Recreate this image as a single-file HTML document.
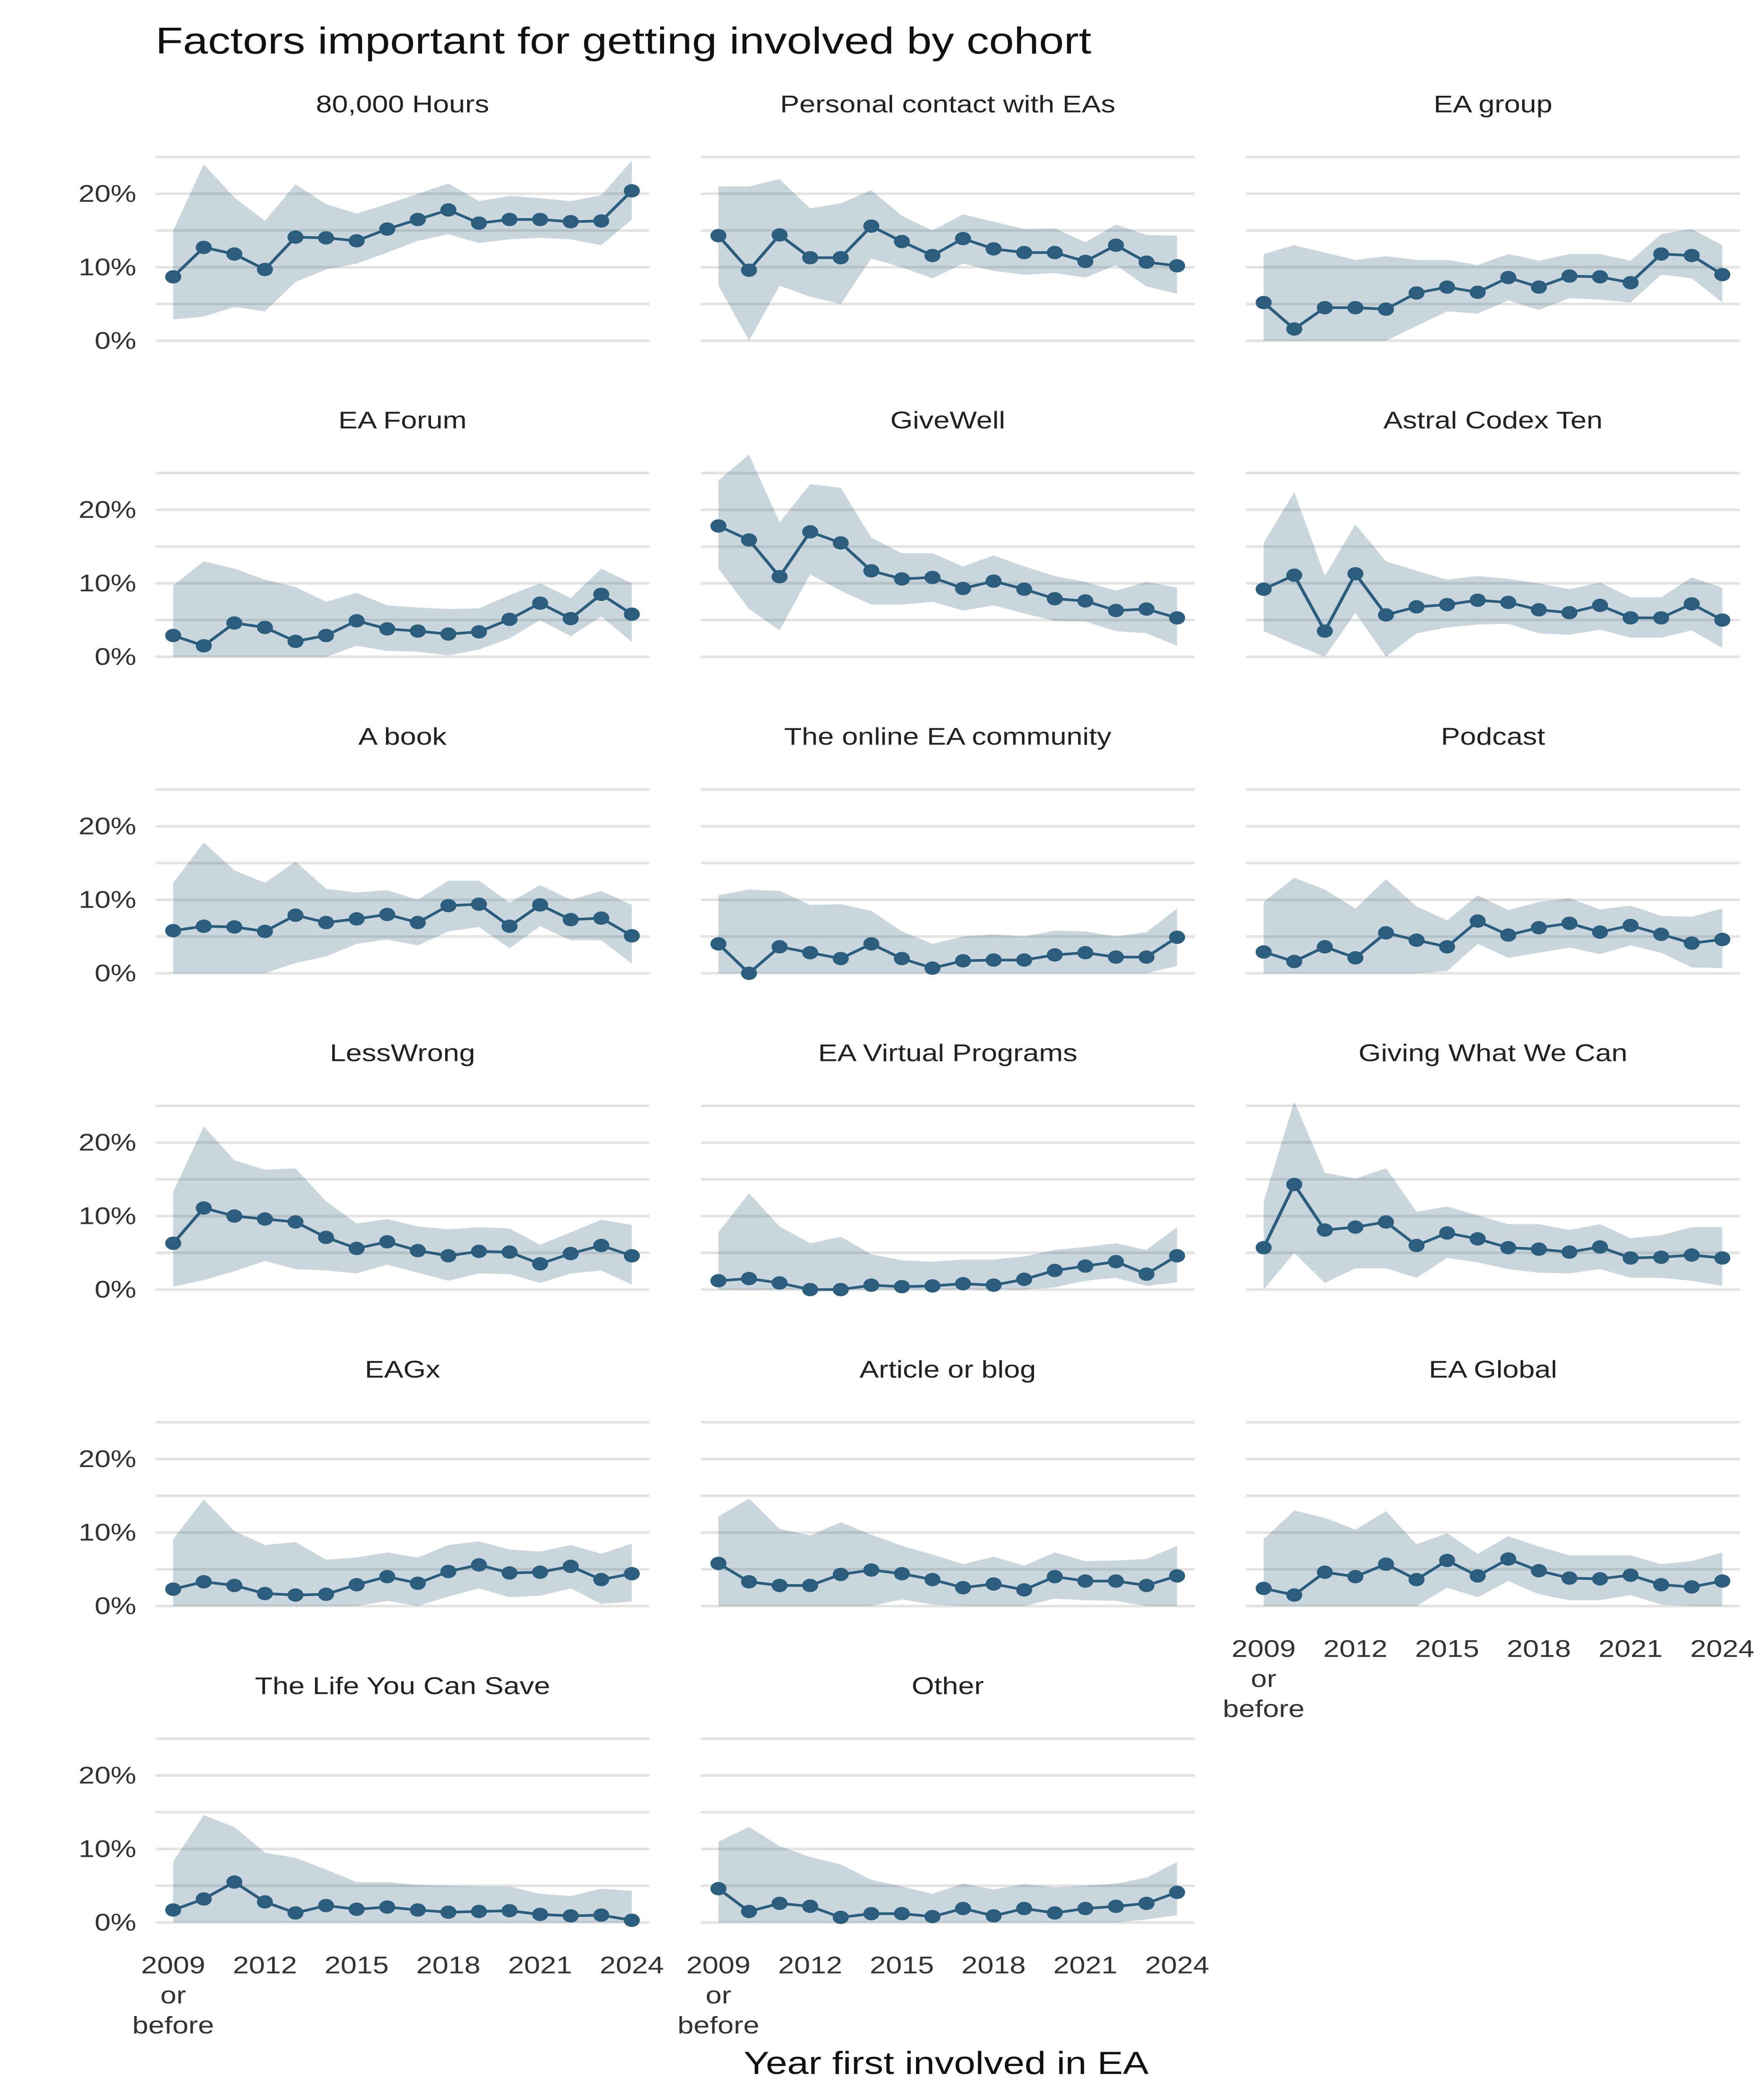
<!DOCTYPE html>
<html><head><meta charset="utf-8"><style>
html,body{margin:0;padding:0;background:#fff;width:100%;height:100%;overflow:hidden;}
svg{display:block;width:100vw;height:100vh;font-family:"Liberation Sans",sans-serif;}
</style></head><body>
<svg id="chart" viewBox="0 0 1100 1571.43" preserveAspectRatio="none" xmlns="http://www.w3.org/2000/svg">
<rect width="1100" height="1571.43" fill="#fff"/>
<text x="97" y="40" font-size="28" fill="#111">Factors important for getting involved by cohort</text>
<text x="590" y="1552" font-size="24" text-anchor="middle" fill="#111">Year first involved in EA</text>
<g id="panels"></g>
</svg>
<script>
const years = ["2009 or before","2010","2011","2012","2013","2014","2015","2016","2017","2018","2019","2020","2021","2022","2023","2024"];
const tickIdx = [0,3,6,9,12,15];
const tickLabels = [["2009","or","before"],["2012"],["2015"],["2018"],["2021"],["2024"]];
const yTicks = [0,10,20];
const yTickLabels = ["0%","10%","20%"];
const panelNames = ["80,000 Hours","Personal contact with EAs","EA group","EA Forum","GiveWell","Astral Codex Ten","A book","The online EA community","Podcast","LessWrong","EA Virtual Programs","Giving What We Can","EAGx","Article or blog","EA Global","The Life You Can Save","Other"];
const values = [
[8.7,12.7,11.8,9.7,14.1,14,13.6,15.2,16.5,17.8,16,16.5,16.5,16.2,16.3,20.4],
[14.3,9.6,14.4,11.3,11.3,15.6,13.5,11.6,13.9,12.5,12,12,10.8,13,10.7,10.2],
[5.2,1.6,4.5,4.5,4.3,6.5,7.3,6.6,8.6,7.3,8.8,8.7,7.9,11.8,11.6,9],
[2.9,1.5,4.6,4.0,2.1,2.9,4.9,3.8,3.5,3.1,3.4,5.1,7.3,5.2,8.5,5.8],
[17.8,15.9,10.9,17,15.5,11.7,10.6,10.8,9.3,10.3,9.2,7.9,7.6,6.3,6.5,5.3],
[9.2,11.1,3.5,11.3,5.7,6.8,7.1,7.7,7.4,6.4,6,7,5.3,5.3,7.2,5],
[5.8,6.4,6.3,5.7,7.9,6.9,7.4,8,6.9,9.2,9.4,6.4,9.3,7.3,7.5,5.1],
[4,0,3.6,2.8,2,4,2,0.7,1.7,1.8,1.8,2.5,2.8,2.2,2.2,4.9],
[2.9,1.6,3.6,2.1,5.5,4.5,3.6,7.1,5.2,6.2,6.8,5.6,6.5,5.3,4.1,4.6],
[6.3,11.1,10,9.6,9.2,7.1,5.6,6.5,5.3,4.6,5.2,5.1,3.5,4.9,6,4.6],
[1.2,1.5,0.9,0,0,0.6,0.4,0.5,0.8,0.6,1.4,2.6,3.2,3.8,2.1,4.6],
[5.7,14.3,8.1,8.5,9.2,6,7.7,6.9,5.7,5.5,5.1,5.8,4.3,4.4,4.7,4.3],
[2.3,3.3,2.8,1.7,1.5,1.6,2.9,4,3.1,4.7,5.6,4.5,4.6,5.4,3.6,4.4],
[5.8,3.3,2.8,2.8,4.3,4.9,4.4,3.6,2.5,3,2.2,4,3.4,3.4,2.8,4.1],
[2.4,1.5,4.6,4,5.7,3.6,6.2,4.1,6.4,4.8,3.8,3.7,4.2,2.9,2.6,3.4],
[1.7,3.2,5.5,2.8,1.3,2.3,1.8,2.1,1.7,1.4,1.5,1.6,1.1,0.9,1,0.3],
[4.6,1.5,2.6,2.2,0.7,1.2,1.2,0.8,1.9,0.9,1.9,1.3,1.9,2.2,2.6,4.1]];
const upper = [
[15,24,19.5,16.3,21.3,18.6,17.3,18.6,20,21.4,19,19.7,19.4,19,19.8,24.5],
[21,21,22,18,18.7,20.5,17,15,17.2,16.2,15.2,15.3,13.4,15.8,14.4,14.3],
[11.8,13,12,11,11.5,11,11,10.3,11.8,10.9,11.8,11.8,10.9,14.5,15.2,13],
[9.7,13,12,10.5,9.5,7.5,8.7,7,6.7,6.5,6.6,8.4,10,8,12,10],
[24,27.5,18.3,23.5,23,16.2,14.1,14.1,12.3,13.8,12.3,11,10.2,9,10.2,9.4],
[15.5,22.4,11,18,13,11.7,10.5,11,10.6,10,9.2,10.1,8.1,8.1,10.8,9.4],
[12.3,17.8,14,12.3,15.2,11.5,11,11.3,10,12.6,12.6,9.6,12,10,11.2,9.3],
[10.6,11.4,11.2,9.3,9.4,8.5,5.7,4,5,5.3,5,5.8,5.7,5,5.6,8.8],
[9.7,13,11.4,8.8,12.8,9.1,7.2,10.6,8.6,9.7,10.2,8.7,9.2,7.8,7.7,8.8],
[13.3,22.2,17.6,16.3,16.5,12,9,9.6,8.6,8.2,8.5,8.3,6.1,7.8,9.5,8.8],
[7.8,13.1,8.6,6.3,7.2,4.8,4,3.8,4.1,4.1,4.5,5.4,5.8,6.3,5.4,8.5],
[12,25.6,15.9,15.1,16.5,10.6,11.3,10.1,8.9,8.9,8.1,8.9,7,7.4,8.5,8.5],
[9.1,14.5,10.2,8.3,8.7,6.3,6.6,7.3,6.6,8.3,8.8,7.7,7.4,8.3,7.1,8.5],
[12.2,14.6,10.5,9.6,11.4,9.7,8.2,7,5.7,6.7,5.5,7.3,6.1,6.2,6.4,8.2],
[9.1,13,12,10.4,12.9,8.4,9.9,7.1,9.5,8.1,6.9,6.9,6.9,5.7,6.1,7.3],
[8.3,14.6,13,9.5,8.8,7.2,5.5,5.5,5.1,5,4.9,4.9,3.9,3.6,4.6,4.3],
[11,13,10.4,8.9,7.9,5.8,4.9,3.9,5.3,4.5,5.2,4.8,5,5.3,6.1,8.2]];
const lower = [
[2.9,3.3,4.6,4,8,9.7,10.5,12,13.6,14.5,13.3,13.8,14,13.8,13,16.5],
[7.5,0,7.5,6,5,11.2,10,8.5,10.5,9.5,9,9.2,8.6,10.3,7.4,6.4],
[0,0,0,0,0,2,4,3.7,5.5,4.2,5.8,5.6,5.2,9,8.5,5.2],
[0,0,0,0,0,0,1.5,0.8,0.7,0.2,1,2.5,5,2.8,5.5,2],
[12,6.5,3.6,11.2,9,7.1,7.1,7.5,6.3,7,5.9,4.9,4.8,3.5,3.2,1.5],
[3.5,1.7,0,6,0,3.2,4,4.4,4.5,3.2,3,3.7,2.6,2.6,3.6,1.2],
[0,0,0,0,1.4,2.3,4,4.6,3.8,5.7,6.3,3.4,6.4,4.5,4.5,1.3],
[0,0,0,0,0,0,0,0,0,0,0,0,0,0,0,1],
[0,0,0,0,0,0,0.3,4,2.1,2.8,3.5,2.6,3.8,2.8,0.8,0.7],
[0.4,1.3,2.5,3.9,2.8,2.6,2.2,3.4,2.3,1.2,2.2,2.1,0.9,2.2,2.6,0.7],
[0,0,0,0,0,0,0,0,0,0,0,0.3,1.2,1.6,0.5,1],
[0,5,0.9,2.9,2.9,1.6,4.3,3.7,2.8,2.3,2.2,2.8,1.6,1.6,1.2,0.5],
[0,0,0,0,0,0,0,0.7,0,1.3,2.4,1.2,1.4,2.4,0.3,0.6],
[0,0,0,0,0,0,0.9,0.2,0,0,0,1,0.8,0.7,0,0],
[0,0,0,0,0,0,2.5,1.2,3.4,1.6,0.8,0.8,1.5,0.2,0,0],
[0,0,0,0,0,0,0,0,0,0,0,0,0,0,0,0],
[0,0,0,0,0,0,0,0,0,0,0,0,0,0,0.4,1]];

const NS = "http://www.w3.org/2000/svg";
const root = document.getElementById("panels");
function mk(tag, attrs, parent){const e=document.createElementNS(NS,tag);for(const k in attrs)e.setAttribute(k,attrs[k]);parent.appendChild(e);return e;}
const colX0=[97,437,777], panelW=308, dataPad=11;
const rowZero=[255,491.5,728.3,965,1201.8,1438.6];
const pxPer=5.5;
function xScale(col,i){return colX0[col]+dataPad+i*(panelW-2*dataPad)/(years.length-1);}
function yScale(row,v){return rowZero[row]-v*pxPer;}

panelNames.forEach((name,p)=>{
  const row=Math.floor(p/3), col=p%3;
  const g=mk("g",{},root);
  
  
  [0,5,10,15,20,25].forEach(v=>{
    const l=mk("line",{x1:colX0[col],x2:colX0[col]+panelW,y1:yScale(row,v),y2:yScale(row,v),stroke:"#e3e3e3","stroke-width":2},g);
    
    
  });
  const st=mk("text",{x:colX0[col]+panelW/2,y:rowZero[row]-171,"font-size":18,"text-anchor":"middle",fill:"#222"},g);
  st.textContent=name;
  
  
  if(col===0){
    yTicks.forEach((v,k)=>{
      const t=mk("text",{x:85,y:yScale(row,v)+6,"font-size":18,"text-anchor":"end",fill:"#333"},g);
      t.textContent=yTickLabels[k];
      
      
    });
  }
  let d="";
  upper[p].forEach((v,i)=>{d+=(i?"L":"M")+xScale(col,i).toFixed(2)+","+yScale(row,v).toFixed(2);});
  for(let i=lower[p].length-1;i>=0;i--){d+="L"+xScale(col,i).toFixed(2)+","+yScale(row,lower[p][i]).toFixed(2);}
  const rib=mk("path",{d:d+"Z",fill:"#2b5d7d","fill-opacity":0.25},g);
  
  
  let ld="";
  values[p].forEach((v,i)=>{ld+=(i?"L":"M")+xScale(col,i).toFixed(2)+","+yScale(row,v).toFixed(2);});
  const line=mk("path",{d:ld,fill:"none",stroke:"#2b5d7d","stroke-width":2},g);
  
  
  values[p].forEach((v,i)=>{
    const c=mk("circle",{cx:xScale(col,i),cy:yScale(row,v),r:5,fill:"#2b5d7d"},g);
    
    
  });
  if(p>=14){
    tickIdx.forEach((idx,k)=>{
      tickLabels[k].forEach((s,j)=>{
        const t=mk("text",{x:xScale(col,idx),y:rowZero[row]+38+j*22.5,"font-size":18,"text-anchor":"middle",fill:"#333"},g);
        t.textContent=s;
        
        
      });
    });
  }
});
</script>
</body></html>
